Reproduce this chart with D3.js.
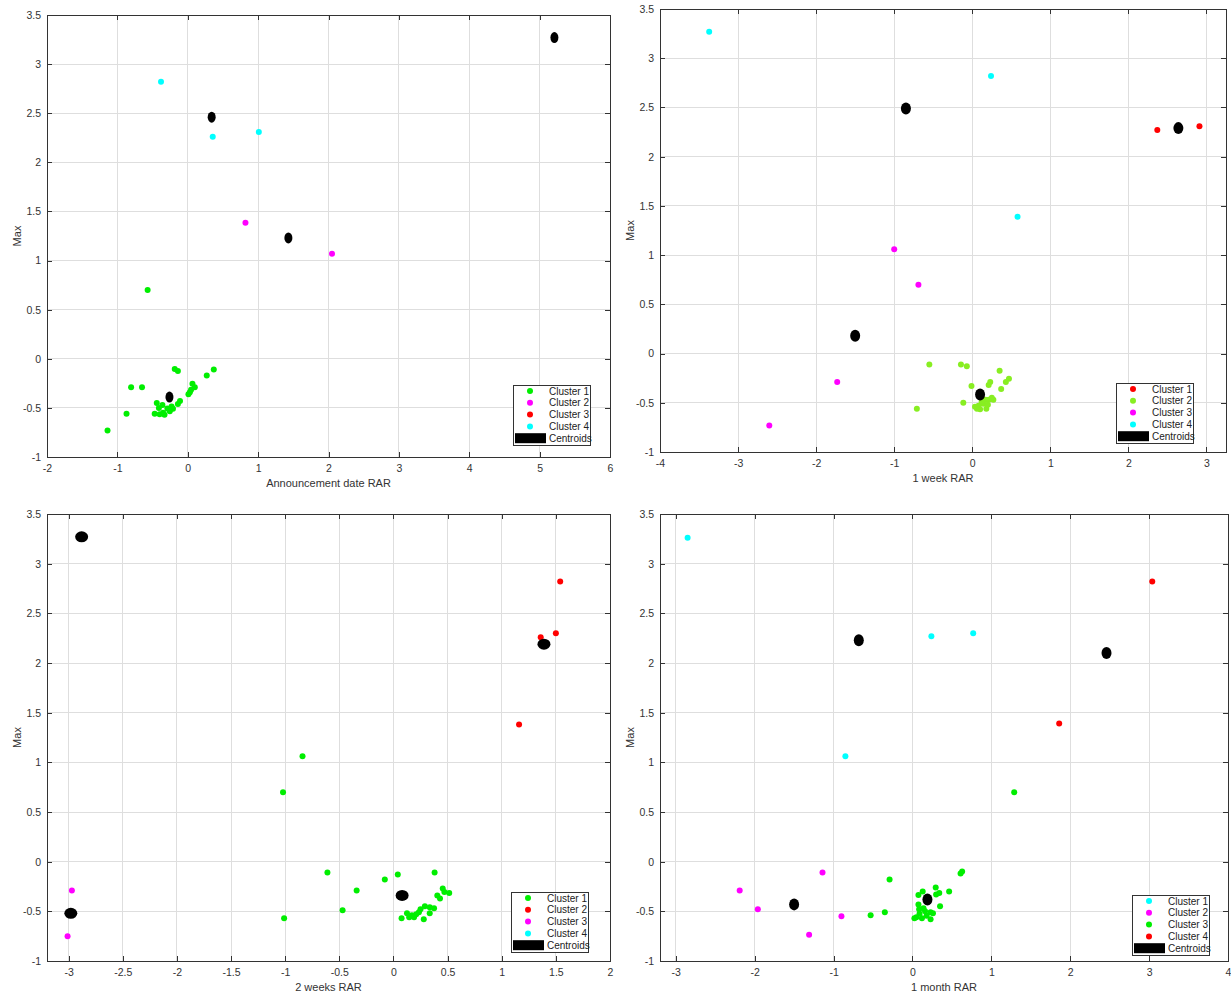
<!DOCTYPE html>
<html>
<head>
<meta charset="utf-8">
<script src="https://cdn.jsdelivr.net/npm/d3@7"></script>
<style>
  html, body { margin: 0; padding: 0; background: #fff; }
  svg { display: block; font-family: "Liberation Sans", Arial, sans-serif; }
</style>
</head>
<body>
<svg id="chart" width="1231" height="997"></svg>
<script>
// ---- data: [RAR, Max, cluster] per observation, and cluster centroids ----
const maxTicks = [-1, -0.5, 0, 0.5, 1, 1.5, 2, 2.5, 3, 3.5];

const annTicks = [-2, -1, 0, 1, 2, 3, 4, 5, 6];
const annPoints = [
  [-0.57, 0.70, 1],
  [-0.185, -0.105, 1], [-0.14, -0.125, 1], [0.37, -0.11, 1], [0.27, -0.17, 1],
  [-0.805, -0.29, 1], [-0.65, -0.29, 1], [0.067, -0.255, 1], [0.10, -0.29, 1],
  [0.047, -0.315, 1], [0.03, -0.34, 1], [0.01, -0.36, 1], [-0.11, -0.43, 1],
  [-0.14, -0.46, 1], [-0.44, -0.45, 1], [-0.36, -0.47, 1], [-0.23, -0.485, 1],
  [-0.41, -0.50, 1], [-0.29, -0.505, 1], [-0.21, -0.51, 1], [-0.255, -0.535, 1],
  [-0.87, -0.56, 1], [-0.47, -0.56, 1], [-0.40, -0.565, 1], [-0.33, -0.57, 1],
  [-0.35, -0.55, 1], [-1.14, -0.73, 1],
  [0.82, 1.385, 2], [2.05, 1.07, 2],
  [5.21, 3.27, 3],
  [-0.38, 2.82, 4], [0.355, 2.26, 4], [1.01, 2.31, 4]
];
const annCentroids = [[5.21, 3.27], [0.34, 2.46], [1.43, 1.23], [-0.26, -0.39]];

const weekTicks = [-4, -3, -2, -1, 0, 1, 2, 3];
const weekPoints = [
  [2.37, 2.27, 1], [2.91, 2.31, 1],
  [-0.55, -0.11, 2], [-0.145, -0.11, 2], [-0.07, -0.13, 2], [0.35, -0.175, 2],
  [0.47, -0.255, 2], [0.23, -0.29, 2], [0.21, -0.32, 2], [0.43, -0.29, 2],
  [-0.01, -0.33, 2], [0.37, -0.36, 2], [0.27, -0.47, 2], [0.21, -0.47, 2],
  [0.17, -0.47, 2], [-0.115, -0.50, 2], [-0.71, -0.56, 2], [0.035, -0.54, 2],
  [0.08, -0.53, 2], [0.10, -0.565, 2], [0.14, -0.51, 2], [0.18, -0.56, 2],
  [0.20, -0.52, 2], [0.06, -0.56, 2], [0.12, -0.49, 2], [0.25, -0.45, 2],
  [-1.0, 1.06, 3], [-0.69, 0.70, 3], [-1.73, -0.29, 3], [-2.6, -0.73, 3],
  [-3.37, 3.27, 4], [0.24, 2.82, 4], [0.58, 1.39, 4]
];
const weekCentroids = [[2.64, 2.29], [0.10, -0.415], [-1.5, 0.18], [-0.85, 2.49]];

const twoWeekTicks = [-3, -2.5, -2, -1.5, -1, -0.5, 0, 0.5, 1, 1.5, 2];
const twoWeekPoints = [
  [-0.84, 1.06, 1], [-1.02, 0.70, 1], [-1.01, -0.57, 1], [-0.61, -0.11, 1],
  [-0.34, -0.29, 1], [-0.47, -0.49, 1], [-0.08, -0.18, 1], [0.04, -0.13, 1],
  [0.38, -0.11, 1], [0.455, -0.27, 1], [0.47, -0.305, 1], [0.515, -0.315, 1],
  [0.405, -0.34, 1], [0.43, -0.37, 1], [0.375, -0.47, 1], [0.335, -0.46, 1],
  [0.29, -0.45, 1], [0.25, -0.48, 1], [0.335, -0.52, 1], [0.235, -0.51, 1],
  [0.21, -0.53, 1], [0.125, -0.52, 1], [0.17, -0.54, 1], [0.145, -0.56, 1],
  [0.19, -0.56, 1], [0.075, -0.57, 1], [0.28, -0.58, 1],
  [1.54, 2.82, 2], [1.36, 2.26, 2], [1.50, 2.30, 2], [1.16, 1.38, 2],
  [-2.97, -0.29, 3], [-3.01, -0.75, 3],
  [-2.88, 3.27, 4]
];
const twoWeekCentroids = [[-2.88, 3.27], [1.39, 2.19], [-2.98, -0.52], [0.08, -0.34]];

const monthTicks = [-3, -2, -1, 0, 1, 2, 3, 4];
const monthPoints = [
  [-2.85, 3.26, 1], [0.24, 2.27, 1], [0.77, 2.30, 1], [-0.85, 1.06, 1],
  [-2.19, -0.29, 2], [-1.96, -0.48, 2], [-1.14, -0.11, 2], [-0.90, -0.55, 2],
  [-1.31, -0.735, 2],
  [1.29, 0.70, 3], [-0.53, -0.54, 3], [-0.35, -0.51, 3], [-0.29, -0.18, 3],
  [0.61, -0.12, 3], [0.63, -0.10, 3], [0.13, -0.30, 3], [0.295, -0.26, 3],
  [0.34, -0.315, 3], [0.30, -0.33, 3], [0.465, -0.30, 3], [0.076, -0.335, 3],
  [0.076, -0.43, 3], [0.35, -0.45, 3], [0.14, -0.47, 3], [0.085, -0.48, 3],
  [0.16, -0.50, 3], [0.23, -0.51, 3], [0.26, -0.52, 3], [0.09, -0.525, 3],
  [0.05, -0.56, 3], [0.12, -0.57, 3], [0.23, -0.58, 3], [0.18, -0.545, 3],
  [0.025, -0.57, 3],
  [3.04, 2.82, 4], [1.86, 1.39, 4]
];
const monthCentroids = [[-0.68, 2.23], [-1.50, -0.43], [0.19, -0.38], [2.46, 2.10]];

const legendLabels = ["Cluster 1", "Cluster 2", "Cluster 3", "Cluster 4", "Centroids"];

// ---- colours ----
const GREEN = "#00ee00", MAGENTA = "#ff00ff", RED = "#ff0000", CYAN = "#00ffff", LIME = "#88ee22";

// ---- panel layout ----
const panels = [
  { left: 47, right: 610, top: 15, bottom: 457, xDomain: [-2, 6], xTicks: annTicks,
    points: annPoints, centroids: annCentroids, xLabel: "Announcement date RAR",
    colors: [GREEN, MAGENTA, RED, CYAN], cr: [4, 5.5], legend: [513, 385] },
  { left: 660, right: 1226, top: 9, bottom: 452, xDomain: [-4, 3.25], xTicks: weekTicks,
    points: weekPoints, centroids: weekCentroids, xLabel: "1 week RAR",
    colors: [RED, LIME, MAGENTA, CYAN], cr: [5, 6], legend: [1116, 383] },
  { left: 47, right: 610, top: 514, bottom: 961, xDomain: [-3.2, 2], xTicks: twoWeekTicks,
    points: twoWeekPoints, centroids: twoWeekCentroids, xLabel: "2 weeks RAR",
    colors: [GREEN, RED, MAGENTA, CYAN], cr: [6.5, 5.5], legend: [511, 892] },
  { left: 660, right: 1228, top: 514, bottom: 961, xDomain: [-3.2, 4], xTicks: monthTicks,
    points: monthPoints, centroids: monthCentroids, xLabel: "1 month RAR",
    colors: [CYAN, MAGENTA, GREEN, RED], cr: [5, 6], legend: [1132, 895] }
];

const svg = d3.select("#chart");
const fmt = d => String(d);
const TICK = 5;

panels.forEach(p => {
  const x = d3.scaleLinear().domain(p.xDomain).range([p.left, p.right]);
  const y = d3.scaleLinear().domain([-1, 3.5]).range([p.bottom, p.top]);
  const g = svg.append("g");

  // grid
  g.append("g").selectAll("line").data(p.xTicks).join("line")
    .attr("x1", d => x(d)).attr("x2", d => x(d))
    .attr("y1", p.top).attr("y2", p.bottom)
    .attr("stroke", "#dedede").attr("stroke-width", 1).attr("shape-rendering", "crispEdges");
  g.append("g").selectAll("line").data(maxTicks).join("line")
    .attr("y1", d => y(d)).attr("y2", d => y(d))
    .attr("x1", p.left).attr("x2", p.right)
    .attr("stroke", "#dedede").attr("stroke-width", 1).attr("shape-rendering", "crispEdges");

  // axes (ticks drawn inward on all four sides)
  const styleAxis = sel => {
    sel.select(".domain").remove();
    sel.selectAll(".tick line").attr("stroke", "#333").attr("shape-rendering", "crispEdges");
    sel.selectAll(".tick text").attr("fill", "#333").attr("font-size", "10.5px")
      .attr("font-family", "Liberation Sans, Arial, sans-serif");
  };
  g.append("g").attr("transform", `translate(0,${p.bottom})`)
    .call(d3.axisBottom(x).tickValues(p.xTicks).tickFormat(fmt).tickSizeInner(-TICK).tickSizeOuter(0).tickPadding(8))
    .call(styleAxis);
  g.append("g").attr("transform", `translate(0,${p.top})`)
    .call(d3.axisTop(x).tickValues(p.xTicks).tickFormat("").tickSizeInner(-TICK).tickSizeOuter(0))
    .call(styleAxis);
  g.append("g").attr("transform", `translate(${p.left},0)`)
    .call(d3.axisLeft(y).tickValues(maxTicks).tickFormat(fmt).tickSizeInner(-TICK).tickSizeOuter(0).tickPadding(6))
    .call(styleAxis);
  g.append("g").attr("transform", `translate(${p.right},0)`)
    .call(d3.axisRight(y).tickValues(maxTicks).tickFormat("").tickSizeInner(-TICK).tickSizeOuter(0))
    .call(styleAxis);

  // box
  g.append("rect")
    .attr("x", p.left).attr("y", p.top)
    .attr("width", p.right - p.left).attr("height", p.bottom - p.top)
    .attr("fill", "none").attr("stroke", "#333").attr("stroke-width", 1)
    .attr("shape-rendering", "crispEdges");

  // axis titles
  g.append("text")
    .attr("x", (p.left + p.right) / 2).attr("y", p.bottom + 30)
    .attr("text-anchor", "middle").attr("font-size", "11px").attr("fill", "#333")
    .text(p.xLabel);
  g.append("text")
    .attr("transform", `translate(${p.left - 26},${(p.top + p.bottom) / 2}) rotate(-90)`)
    .attr("text-anchor", "middle").attr("font-size", "11px").attr("fill", "#333")
    .text("Max");

  // observations
  g.append("g").selectAll("circle").data(p.points).join("circle")
    .attr("cx", d => x(d[0])).attr("cy", d => y(d[1])).attr("r", 3)
    .attr("fill", d => p.colors[d[2] - 1]);

  // centroids on top
  g.append("g").selectAll("ellipse").data(p.centroids).join("ellipse")
    .attr("cx", d => x(d[0])).attr("cy", d => y(d[1]))
    .attr("rx", p.cr[0]).attr("ry", p.cr[1]).attr("fill", "#000");

  // legend
  const [lx, ly] = p.legend;
  const lg = g.append("g").attr("transform", `translate(${lx},${ly})`);
  lg.append("rect").attr("x", 0).attr("y", 0).attr("width", 77).attr("height", 60)
    .attr("fill", "#fff").attr("stroke", "#333").attr("stroke-width", 1)
    .attr("shape-rendering", "crispEdges");
  legendLabels.forEach((lab, i) => {
    const cy = 6 + i * 11.8;
    if (i < 4) {
      lg.append("circle").attr("cx", 17).attr("cy", cy).attr("r", 3).attr("fill", p.colors[i]);
    } else {
      lg.append("rect").attr("x", 2).attr("y", cy - 5).attr("width", 31).attr("height", 10).attr("fill", "#000");
    }
    lg.append("text").attr("x", 36).attr("y", cy + 3.6)
      .attr("font-size", "10px").attr("fill", "#222").text(lab);
  });
});
</script>
</body>
</html>
